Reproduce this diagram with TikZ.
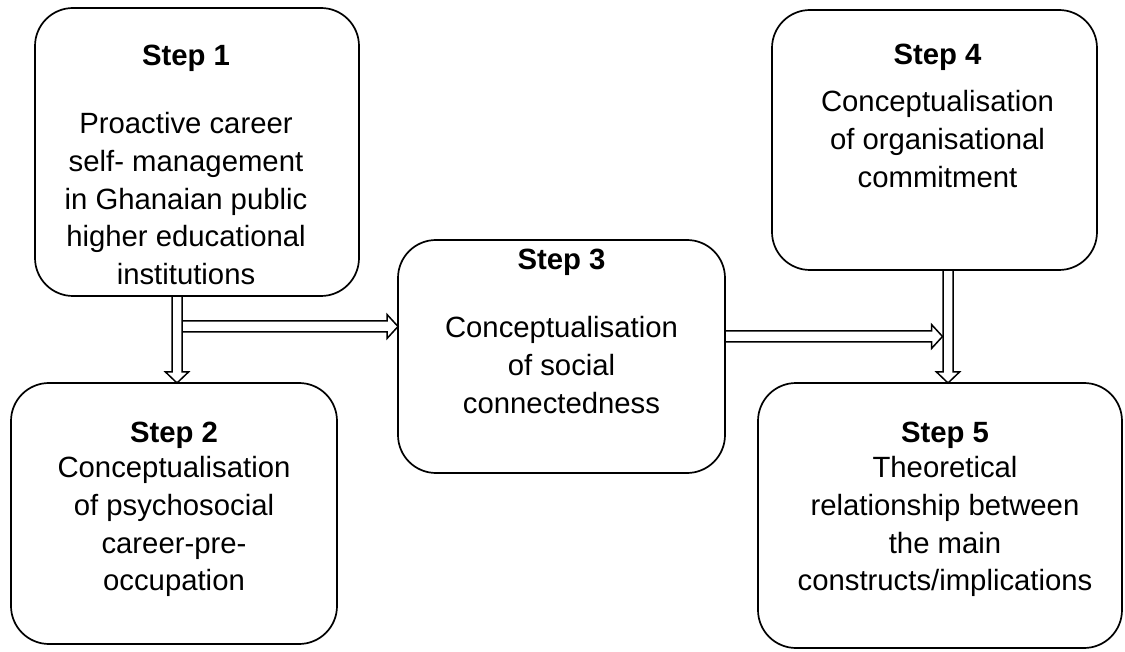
\documentclass[tikz,border=0pt]{standalone}
\usepackage{fontspec}
\setmainfont{Liberation Sans}
\usetikzlibrary{calc}

% hollow block arrows built from two named points
\newcommand\blkdown[2]{\draw[blk] let \p1=(#1), \p2=(#2) in
  (\x1-5pt,\y1) -- (\x1-5pt,\y2+11pt) -- (\x1-11.5pt,\y2+11pt) -- (\x1,\y2)
  -- (\x1+11.5pt,\y2+11pt) -- (\x1+5pt,\y2+11pt) -- (\x1+5pt,\y1);}
\newcommand\blkright[2]{\draw[blk] let \p1=(#1), \p2=(#2) in
  (\x1,\y1+5.5pt) -- (\x2-11pt,\y1+5.5pt) -- (\x2-11pt,\y1+12pt) -- (\x2,\y1)
  -- (\x2-11pt,\y1-12pt) -- (\x2-11pt,\y1-5.5pt) -- (\x1,\y1-5.5pt);}

\begin{document}
\begin{tikzpicture}[x=1pt,y=-1pt,
  stepbox/.style={draw, line width=1.7pt, rounded corners=38pt, inner sep=0pt, outer sep=0pt, anchor=north west},
  steptitle/.style={anchor=base, inner sep=0pt, font=\fontsize{29.3}{37.8}\selectfont\bfseries},
  stepbody/.style={anchor=north, inner sep=0pt, align=center, font=\fontsize{29.3}{37.8}\selectfont},
  blk/.style={line width=1.5pt, line join=miter}]
\useasboundingbox (0,0) rectangle (1125,652);
\fill[white] (0,0) rectangle (1125,652);

% boxes
\node[stepbox, minimum width=324pt, minimum height=288pt] (s1) at (35,8) {};
\node[stepbox, minimum width=326pt, minimum height=261pt] (s2) at (11,383) {};
\node[stepbox, minimum width=327pt, minimum height=233pt] (s3) at (398,240) {};
\node[stepbox, minimum width=325pt, minimum height=260pt] (s4) at (772,10) {};
\node[stepbox, minimum width=364pt, minimum height=265pt] (s5) at (758,383) {};

% titles
\node[steptitle] (t1) at ($(s1.north)+(-11,58)$) {Step 1};
\node[steptitle] (t2) at ($(s2.north)+(0,59)$) {Step 2};
\node[steptitle] (t3) at ($(s3.north)+(0,30)$) {Step 3};
\node[steptitle] (t4) at ($(s4.north)+(3,55)$) {Step 4};
\node[steptitle] (t5) at ($(s5.north)+(5,59)$) {Step 5};

% descriptions
\node[stepbody] (b1) at ($(s1.north)+(-11,104)$) {Proactive career\\self- management\\in Ghanaian public\\higher educational\\institutions};
\node[stepbody] (b2) at ($(s2.north)+(0,73)$) {Conceptualisation\\of psychosocial\\career-pre-\\occupation};
\node[stepbody] (b3) at ($(s3.north)+(0,76)$) {Conceptualisation\\of social\\connectedness};
\node[stepbody] (b4) at ($(s4.north)+(3,80)$) {Conceptualisation\\of organisational\\commitment};
\node[stepbody] (b5) at ($(s5.north)+(5,73)$) {Theoretical\\relationship between\\the main\\constructs/implications};

% arrow guide points
\coordinate (ax1) at (177,0);
\coordinate (ax4) at (948,0);
\coordinate (j13) at (182,326.5);
\coordinate (j35) at (0,336.5);
\coordinate (e35) at (942.5,0);

% connectors
\blkdown{ax1 |- s1.south}{ax1 |- s2.north}
\blkright{j13}{j13 -| s3.west}
\blkright{s3.east |- j35}{e35 |- j35}
\blkdown{ax4 |- s4.south}{ax4 |- s5.north}
\end{tikzpicture}
\end{document}
